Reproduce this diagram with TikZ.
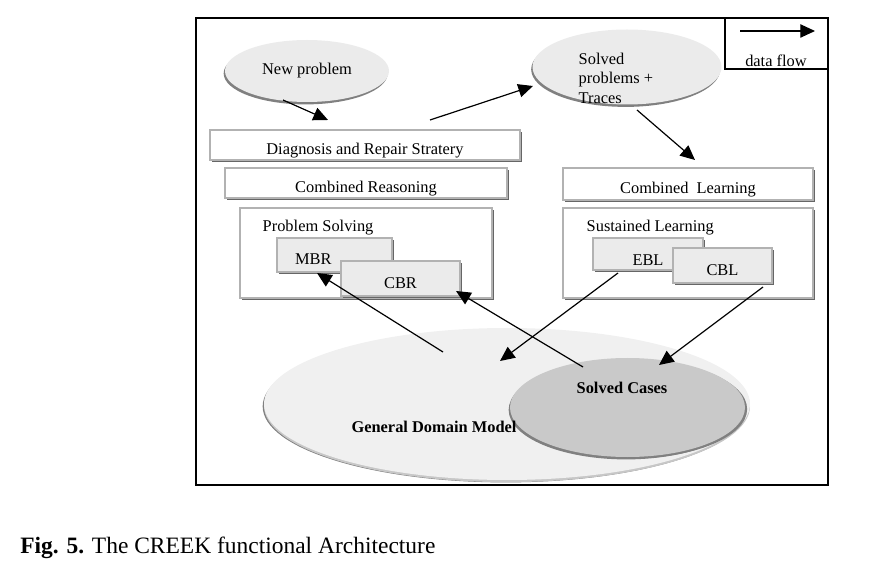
\documentclass[tikz,border=0pt]{standalone}
\usepackage{fontspec}
\setmainfont{Liberation Serif}
\usepackage{tikz}
\usetikzlibrary{shapes.geometric,shadows,arrows.meta}

\begin{document}
\begin{tikzpicture}[x=0.75pt,y=-0.75pt,
		font=\fontsize{12.3}{14.6}\selectfont,
		flow/.style={line width=0.9pt,-{Triangle[length=11pt,width=10pt]}},
		box/.style={rectangle,draw=black!30,line width=1pt,fill=white,inner sep=0pt,
			text height=17pt,text depth=2.5pt,
			drop shadow={shadow xshift=1.6pt,shadow yshift=-1.6pt,fill=black!60,opacity=1}},
		subbox/.style={box,fill=black!8},
		blob/.style={ellipse,fill=black!8,inner sep=0pt,
			drop shadow={shadow xshift=-1pt,shadow yshift=-1.8pt,fill=black!50,opacity=1}}]
				\useasboundingbox (0,0) rectangle (886,570);
				
				% frame and legend
				\draw[line width=1.1pt] (196,18) rectangle (828,485);
				\draw[line width=1.1pt] (725,18) rectangle (828,69);
				\node (legend) at (776,61) {data flow};
				
				% ellipses
				\node[blob,minimum width=123pt,minimum height=46.5pt] (newprob) at (307,71) {New problem};
				\node[blob,minimum width=141.75pt,minimum height=56.25pt] (solvprob) at (627,67) {};
				\node[anchor=west,align=left] (solvtext) at (574,78) {Solved\\problems +\\Traces};
				\node[blob,fill=black!6,minimum width=364.5pt,minimum height=114pt,
					drop shadow={shadow xshift=0pt,shadow yshift=-1.6pt,fill=black!22,opacity=1}] (gdm) at (507,404) {};
				\node[blob,fill=black!21,minimum width=176.25pt,minimum height=74.25pt,
					drop shadow={shadow xshift=1.6pt,shadow yshift=-1.2pt,fill=black!50,opacity=1}] (cases) at (627.5,407.5) {};
				\node[font=\fontsize{12.3}{14.6}\selectfont\bfseries] (gdmtext) at (434,427) {General Domain Model};
				\node[font=\fontsize{12.3}{14.6}\selectfont\bfseries] (casestext) at (622,388) {Solved Cases};
				
				% reasoning side (left)
				\node[box,minimum width=232.5pt,minimum height=22.5pt] (diag) at (365,145) {Diagnosis and Repair Stratery};
				\node[box,minimum width=211.5pt,minimum height=22.5pt] (combreas) at (366,183) {Combined Reasoning};
				\node[box,minimum width=189pt,minimum height=67.5pt] (probsolv) at (366,253) {};
				\node[anchor=west] (probtext) at (258,228) {Problem Solving};
				\node[subbox,minimum width=86.25pt,minimum height=25.5pt,
					text width=59pt,inner xsep=13.5pt,align=left] (mbr) at (334.5,255) {MBR};
				\node[subbox,minimum width=89.25pt,minimum height=26.25pt] (cbr) at (400.5,278.5) {CBR};
				
				% learning side (right)
				\node[box,minimum width=187.5pt,minimum height=24pt] (comblearn) at (688,184) {Combined\ \ Learning};
				\node[box,minimum width=187.5pt,minimum height=67.5pt] (sustlearn) at (688,253) {};
				\node[anchor=west] (susttext) at (582,228) {Sustained Learning};
				\node[subbox,minimum width=82.5pt,minimum height=24pt,text height=20pt] (ebl) at (648,254) {EBL};
				\node[subbox,minimum width=74.25pt,minimum height=26.25pt] (cbl) at (722.5,265.5) {CBL};
				
				% arrow ends
				\foreach \n/\x/\y in
				{legA/740/31, legB/815/31, npA/283/100, npB/328/120,
				 dgA/430/120, dgB/533/86, spA/637/110, spB/695/160,
				 gmA/443/352, gmB/317/273, scA/583/367, scB/456/291,
				 ebA/618/273, ebB/500/361, clA/763/287, clB/659/365}{
					\coordinate(\n) at (\x,\y);
				}
				
				\foreach \x/\y in
				{legA/legB, npA/npB, dgA/dgB, spA/spB, gmA/gmB, scA/scB, ebA/ebB, clA/clB}{
					\draw[flow] (\x)--(\y);
				}
				
				% caption
				\node[anchor=base west,inner sep=0pt,font=\fontsize{17.6}{22}\selectfont] (caption) at (20,553)
					{\textbf{Fig. 5.} The CREEK functional Architecture};
			\end{tikzpicture}
\end{document}
